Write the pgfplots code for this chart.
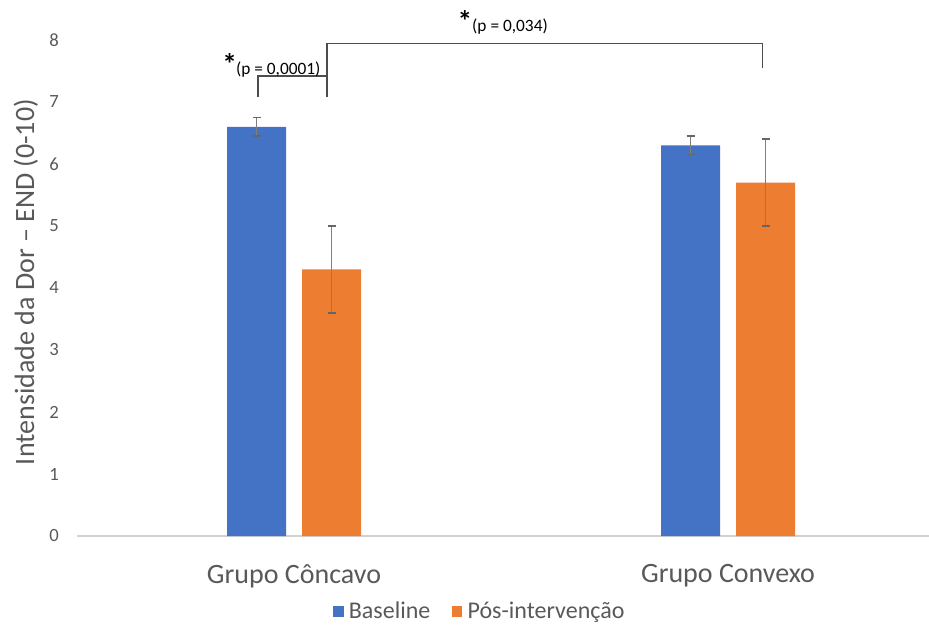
\documentclass[border=0pt]{standalone}
\usepackage{pgfplots}
\pgfplotsset{compat=1.18}
\usepackage{fontspec}
\setmainfont{Carlito}
\definecolor{cblue}{HTML}{4472C4}
\definecolor{corange}{HTML}{ED7D31}
\definecolor{txt}{HTML}{595959}
\definecolor{errc}{HTML}{7F7F7F}
\begin{document}
\begin{tikzpicture}[x=1pt,y=1pt]
\path[use as bounding box] (-57.75,-66.75) rectangle (639,402);
\begin{axis}[
  at={(0,0)}, anchor=south west,
  scale only axis, width=639pt, height=372pt,
  xmin=-0.5, xmax=1.463, ymin=0, ymax=8,
  clip=false,
  axis lines*=left,
  x axis line style={draw=black!18, line width=0.9pt},
  y axis line style={draw=none},
  major tick length=0pt,
  xtick={0,1}, xticklabels={Grupo Côncavo, Grupo Convexo},
  ytick={0,1,2,3,4,5,6,7,8},
  /pgf/number format/assume math mode=true,
  yticklabel style={font=\fontsize{14}{16}\selectfont, text=txt, xshift=-10pt},
  xticklabel style={font=\fontsize{21}{24}\selectfont, text=txt, yshift=-18pt},
  ylabel={Intensidade da Dor – END (0-10)},
  ylabel style={font=\fontsize{21}{24}\selectfont, text=txt, at={(axis description cs:-0.06,0.512)}, anchor=center},
  legend columns=2,
  legend style={draw=none, fill=none, at={(axis description cs:0.473,-0.152)}, anchor=center,
    font=\fontsize{18}{20}\selectfont, text=txt,
    /tikz/every odd column/.append style={column sep=2pt},
    /tikz/every even column/.append style={column sep=14pt}},
  ybar, bar width=0.136,
  error bars/y dir=both, error bars/y explicit,
  error bars/error bar style={errc, line width=1.2pt},
  error bars/error mark options={rotate=90, mark size=3pt, black!60, line width=1.2pt},
]
\addplot[fill=cblue, draw=none, bar shift=-0.0864,
  legend image code/.code={\fill[cblue] (0pt,-4pt) rectangle (8pt,4pt);}]
  coordinates {(0,6.6) +- (0,0.15) (1,6.3) +- (0,0.15)};
\addlegendentry{Baseline}
\addplot[fill=corange, draw=none, bar shift=0.0864,
  legend image code/.code={\fill[corange] (0pt,-4pt) rectangle (8pt,4pt);}]
  coordinates {(0,4.3) +- (0,0.7) (1,5.7) +- (0,0.7)};
\addlegendentry{Pós-intervenção}
% significance brackets
\draw[black!70, line width=1pt] (axis cs:-0.083,7.08) -- (axis cs:-0.083,7.42) -- (axis cs:0.076,7.42) -- (axis cs:0.076,7.08);
\draw[black!70, line width=1pt] (axis cs:0.076,7.42) -- (axis cs:0.076,7.94) -- (axis cs:1.08,7.94) -- (axis cs:1.08,7.55);
\node[text=black, font=\fontsize{22}{22}\selectfont\bfseries, anchor=center, inner sep=0pt] at (axis cs:-0.148,7.62) {*};
\node[text=black, font=\fontsize{13}{14}\selectfont, anchor=west, inner sep=0pt] at (axis cs:-0.134,7.52) {(p = 0,0001)};
\node[text=black, font=\fontsize{22}{22}\selectfont\bfseries, anchor=center, inner sep=0pt] at (axis cs:0.394,8.31) {*};
\node[text=black, font=\fontsize{13}{14}\selectfont, anchor=west, inner sep=0pt] at (axis cs:0.41,8.22) {(p = 0,034)};
\end{axis}
\end{tikzpicture}
\end{document}
